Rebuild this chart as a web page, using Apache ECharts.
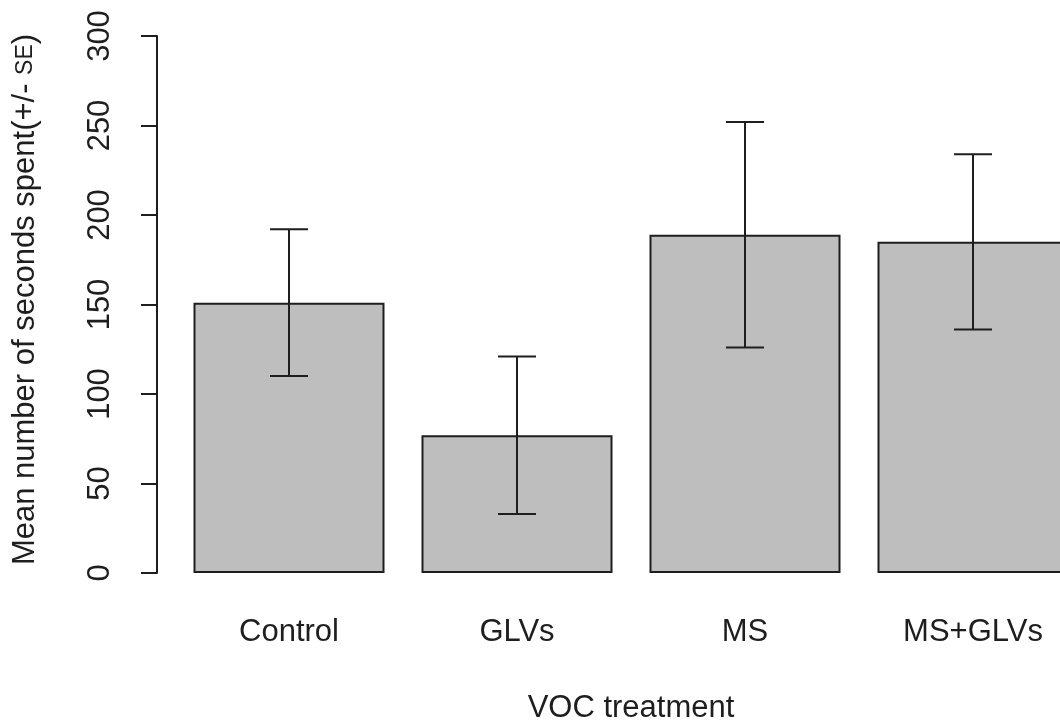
<!DOCTYPE html>
<html>
<head>
<meta charset="utf-8">
<title>Mean seconds spent by VOC treatment</title>
<script src="https://cdn.jsdelivr.net/npm/echarts@6/dist/echarts.min.js"></script>
<style>
  html, body { margin: 0; padding: 0; background: #ffffff; }
  #chart { width: 1060px; height: 725px; }
</style>
</head>
<body>
<div id="chart"></div>
<script>
// Treatments and their mean time (seconds) with standard errors
const categories = ['Control', 'GLVs', 'MS', 'MS+GLVs'];
const means = [151, 77, 189, 185];
const stdErrors = [41, 44, 63, 49];
const yTicks = [0, 50, 100, 150, 200, 250, 300];

const FONT = '"Liberation Sans", Arial, Helvetica, sans-serif';
const INK = '#1e1e1e';

// [category index, lower, upper] for each error bar
const errorData = categories.map((c, i) => [i, means[i] - stdErrors[i], means[i] + stdErrors[i]]);

const chart = echarts.init(document.getElementById('chart'));

chart.setOption({
  backgroundColor: '#ffffff',
  animation: false,
  // plot region runs past the right edge, so the last bar is cut off
  grid: {
    left: 175, width: 912, top: 36, bottom: 152,
    containLabel: false, outerBoundsMode: 'none'
  },
  xAxis: {
    type: 'category',
    data: categories,
    axisLine: { show: false },
    axisTick: { show: false },
    axisLabel: { fontFamily: FONT, fontSize: 31, color: INK, margin: 44 },
    name: 'VOC treatment',
    nameLocation: 'middle',
    nameGap: 120,
    nameTextStyle: { fontFamily: FONT, fontSize: 31, color: INK }
  },
  yAxis: {
    type: 'value',
    min: yTicks[0],
    max: yTicks[yTicks.length - 1],
    interval: yTicks[1] - yTicks[0],
    offset: 18,
    splitLine: { show: false },
    axisLine: { show: true, lineStyle: { color: INK, width: 2 } },
    axisTick: { show: true, length: 16, lineStyle: { color: INK, width: 2 } },
    axisLabel: {
      fontFamily: FONT, fontSize: 31, color: INK,
      rotate: 90, align: 'center', verticalAlign: 'bottom', margin: 41
    },
    name: '{t|Mean number of seconds spent(+/- }{s|SE}{t|)}',
    nameLocation: 'middle',
    nameGap: 116,
    nameTextStyle: {
      padding: [0, 0, 0, 10],
      rich: {
        t: { fontFamily: FONT, fontSize: 31, color: INK },
        s: { fontFamily: FONT, fontSize: 23, color: INK }
      }
    }
  },
  series: [
    {
      type: 'bar',
      data: means,
      barWidth: 191,
      itemStyle: { color: '#bebebe', borderColor: INK, borderWidth: 2 },
      silent: true,
      z: 2
    },
    {
      type: 'custom',
      data: errorData,
      z: 3,
      silent: true,
      renderItem: function (params, api) {
        const idx = api.value(0);
        const lo = api.coord([idx, api.value(1)]);
        const hi = api.coord([idx, api.value(2)]);
        const half = 19;
        const style = { stroke: INK, lineWidth: 2 };
        return {
          type: 'group',
          children: [
            { type: 'line', shape: { x1: hi[0], y1: hi[1], x2: lo[0], y2: lo[1] }, style: style },
            { type: 'line', shape: { x1: hi[0] - half, y1: hi[1], x2: hi[0] + half, y2: hi[1] }, style: style },
            { type: 'line', shape: { x1: lo[0] - half, y1: lo[1], x2: lo[0] + half, y2: lo[1] }, style: style }
          ]
        };
      }
    }
  ]
});
</script>
</body>
</html>
